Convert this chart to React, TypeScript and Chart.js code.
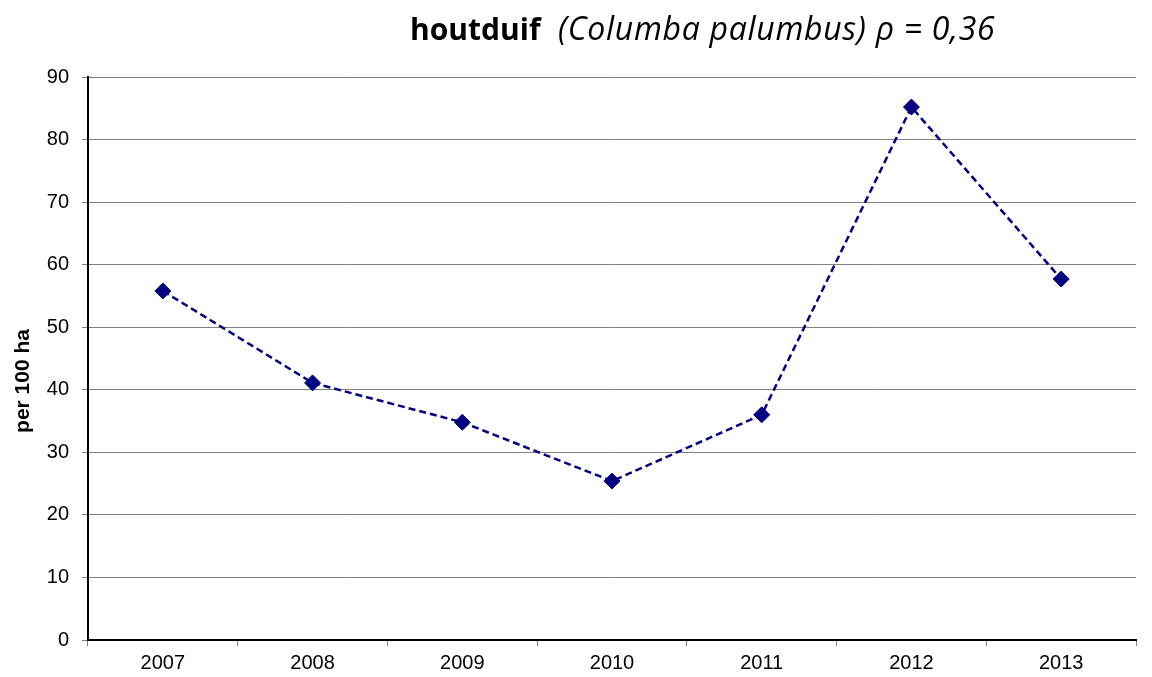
import React, { useEffect, useRef } from "react";
import { Chart, registerables } from "chart.js";

Chart.register(...registerables);

const categories = ["2007", "2008", "2009", "2010", "2011", "2012", "2013"];
const values = [55.8, 41.1, 34.8, 25.4, 36.0, 85.2, 57.7];
const yMin = 0;
const yMax = 90;
const yStep = 10;
const titleBold = "houtduif";
const titleItalic = "(Columba palumbus) ρ = 0,36";
const yTitle = "per 100 ha";

const textPlugin = {
  id: "customText",
  afterDraw(chart: any) {
    const ctx = chart.ctx;
    ctx.save();
    ctx.fillStyle = "#000";
    ctx.textBaseline = "alphabetic";
    ctx.textAlign = "left";
    ctx.font = "bold 30px 'Open Sans'";
    ctx.fillText(titleBold, 410, 40);
    ctx.font = "italic 32px 'Open Sans'";
    try {
      (ctx as any).letterSpacing = "0.7px";
    } catch (e) {}
    ctx.fillText(titleItalic, 558, 40);
    try {
      (ctx as any).letterSpacing = "0px";
    } catch (e) {}
    ctx.translate(23, 381);
    ctx.rotate(-Math.PI / 2);
    ctx.textAlign = "center";
    ctx.textBaseline = "middle";
    ctx.font = "bold 21px 'Liberation Sans'";
    ctx.fillText(yTitle, 0, 0);
    ctx.restore();
  },
};

export default function App() {
  const ref = useRef<HTMLCanvasElement | null>(null);
  useEffect(() => {
    if (!ref.current) return;
    const chart = new Chart(ref.current, {
      type: "line",
      data: {
        labels: categories,
        datasets: [
          {
            data: values,
            borderColor: "#000080",
            backgroundColor: "#000080",
            borderWidth: 2.5,
            borderDash: [7, 4],
            pointStyle: "rectRot",
            pointRadius: 8,
            pointBorderWidth: 1,
            pointBackgroundColor: "#000080",
            pointBorderColor: "#000080",
            tension: 0,
            fill: false,
          },
        ],
      },
      options: {
        animation: false,
        responsive: true,
        maintainAspectRatio: false,
        layout: { padding: { top: 77, right: 16, left: 0, bottom: 0 } },
        plugins: {
          legend: { display: false },
          title: { display: false },
          tooltip: { enabled: false },
        },
        scales: {
          x: {
            type: "category",
            offset: true,
            grid: {
              offset: true,
              drawOnChartArea: false,
              drawTicks: true,
              tickLength: 6,
              color: "#808080",
            },
            border: { display: true, color: "#000", width: 2 },
            ticks: {
              color: "#000",
              font: { family: "'Liberation Sans'", size: 20 },
              padding: 5,
              maxRotation: 0,
            },
            afterFit(scale: any) {
              scale.height = 37;
            },
          },
          y: {
            min: yMin,
            max: yMax,
            grid: {
              color: "#808080",
              lineWidth: 1,
              tickLength: 6,
              drawTicks: true,
            },
            border: { display: true, color: "#000", width: 2 },
            ticks: {
              stepSize: yStep,
              color: "#000",
              font: { family: "'Liberation Sans'", size: 20 },
              padding: 13,
            },
            afterFit(scale: any) {
              scale.width = 88;
            },
          },
        },
      },
      plugins: [textPlugin],
    });
    return () => chart.destroy();
  }, []);
  return (
    <div style={{ position: "fixed", left: 0, top: 0, width: 1152, height: 677, background: "#fff" }}>
      <canvas ref={ref} />
    </div>
  );
}
